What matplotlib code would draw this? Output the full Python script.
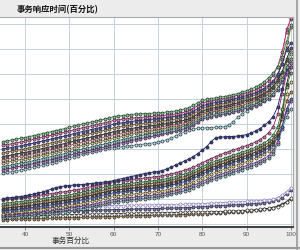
import matplotlib.pyplot as plt
from matplotlib.lines import Line2D

plt.rcParams['font.family'] = ['Noto Sans CJK SC', 'DejaVu Sans']

title = '事务响应时间(百分比)'
xlabel = '事务百分比'
percentiles = list(range(35, 101))
xticks = [40, 50, 60, 70, 80, 90, 100]

# upper band of transactions
a1 = [3.30, 3.33, 3.36, 3.40, 3.43, 3.46, 3.50, 3.54, 3.58, 3.62, 3.66,
      3.70, 3.74, 3.78, 3.82, 3.87, 3.91, 3.96, 4.00, 4.04, 4.08, 4.12,
      4.16, 4.20, 4.24, 4.30, 4.32, 4.34, 4.36, 4.38, 4.40, 4.40, 4.42,
      4.42, 4.44, 4.44, 4.46, 4.48, 4.50, 4.52, 4.55, 4.60, 4.66, 4.75,
      4.85, 4.94, 4.98, 5.02, 5.05, 5.08, 5.10, 5.14, 5.18, 5.22, 5.28,
      5.34, 5.40, 5.48, 5.58, 5.70, 5.86, 6.04, 6.30, 6.70, 7.30, 7.95]
a2 = [3.15, 3.18, 3.21, 3.25, 3.28, 3.31, 3.35, 3.39, 3.43, 3.47, 3.51,
      3.55, 3.59, 3.63, 3.67, 3.72, 3.76, 3.81, 3.85, 3.89, 3.93, 3.97,
      4.01, 4.05, 4.09, 4.15, 4.17, 4.19, 4.21, 4.23, 4.25, 4.26, 4.28,
      4.29, 4.31, 4.32, 4.34, 4.36, 4.38, 4.40, 4.43, 4.47, 4.53, 4.62,
      4.74, 4.84, 4.89, 4.93, 4.96, 4.99, 5.02, 5.05, 5.10, 5.15, 5.20,
      5.25, 5.30, 5.37, 5.46, 5.58, 5.74, 5.95, 6.30, 6.90, 7.70, 8.25]
a3 = [3.00, 3.03, 3.06, 3.10, 3.13, 3.16, 3.20, 3.24, 3.28, 3.32, 3.36,
      3.40, 3.44, 3.48, 3.52, 3.57, 3.61, 3.66, 3.70, 3.74, 3.78, 3.82,
      3.86, 3.90, 3.94, 4.00, 4.03, 4.05, 4.08, 4.10, 4.13, 4.14, 4.17,
      4.18, 4.20, 4.21, 4.24, 4.26, 4.29, 4.31, 4.34, 4.38, 4.43, 4.51,
      4.62, 4.73, 4.78, 4.82, 4.86, 4.89, 4.92, 4.95, 5.00, 5.04, 5.09,
      5.14, 5.19, 5.25, 5.32, 5.42, 5.55, 5.72, 6.00, 6.40, 6.95, 7.25]
a4 = [2.85, 2.88, 2.91, 2.95, 2.98, 3.01, 3.05, 3.09, 3.13, 3.17, 3.21,
      3.25, 3.29, 3.33, 3.37, 3.42, 3.46, 3.51, 3.55, 3.59, 3.63, 3.67,
      3.71, 3.75, 3.79, 3.85, 3.88, 3.91, 3.94, 3.96, 3.99, 4.01, 4.04,
      4.05, 4.07, 4.09, 4.12, 4.14, 4.17, 4.20, 4.23, 4.27, 4.32, 4.40,
      4.51, 4.62, 4.68, 4.72, 4.76, 4.79, 4.82, 4.85, 4.90, 4.95, 5.00,
      5.05, 5.10, 5.16, 5.24, 5.34, 5.48, 5.66, 5.95, 6.40, 7.05, 7.90]
a5 = [2.70, 2.73, 2.76, 2.80, 2.83, 2.86, 2.90, 2.94, 2.98, 3.02, 3.06,
      3.10, 3.14, 3.18, 3.22, 3.27, 3.31, 3.36, 3.40, 3.44, 3.48, 3.52,
      3.56, 3.60, 3.64, 3.70, 3.73, 3.76, 3.79, 3.82, 3.85, 3.87, 3.90,
      3.92, 3.94, 3.96, 3.99, 4.02, 4.05, 4.08, 4.11, 4.15, 4.20, 4.28,
      4.40, 4.52, 4.58, 4.62, 4.66, 4.69, 4.72, 4.75, 4.80, 4.85, 4.90,
      4.95, 5.00, 5.06, 5.13, 5.22, 5.35, 5.50, 5.75, 6.10, 6.60, 7.05]
a6 = [2.58, 2.61, 2.64, 2.68, 2.71, 2.74, 2.78, 2.82, 2.86, 2.90, 2.94,
      2.98, 3.02, 3.06, 3.10, 3.15, 3.19, 3.24, 3.28, 3.32, 3.36, 3.40,
      3.44, 3.48, 3.52, 3.58, 3.61, 3.64, 3.67, 3.71, 3.74, 3.76, 3.79,
      3.81, 3.83, 3.86, 3.89, 3.92, 3.95, 3.98, 4.02, 4.06, 4.11, 4.19,
      4.31, 4.43, 4.49, 4.54, 4.58, 4.61, 4.64, 4.67, 4.72, 4.77, 4.82,
      4.87, 4.92, 4.98, 5.06, 5.16, 5.30, 5.50, 5.85, 6.60, 7.80, 8.20]
a7 = [2.45, 2.48, 2.51, 2.55, 2.58, 2.61, 2.65, 2.69, 2.73, 2.77, 2.81,
      2.85, 2.89, 2.93, 2.97, 3.02, 3.06, 3.11, 3.15, 3.19, 3.23, 3.27,
      3.31, 3.35, 3.39, 3.45, 3.49, 3.52, 3.56, 3.59, 3.63, 3.65, 3.69,
      3.71, 3.74, 3.76, 3.80, 3.83, 3.87, 3.90, 3.94, 3.99, 4.04, 4.13,
      4.25, 4.37, 4.43, 4.47, 4.51, 4.54, 4.57, 4.60, 4.65, 4.70, 4.75,
      4.80, 4.85, 4.91, 4.98, 5.07, 5.20, 5.36, 5.60, 5.95, 6.45, 6.80]
a8 = [2.30, 2.33, 2.36, 2.40, 2.43, 2.46, 2.50, 2.54, 2.58, 2.62, 2.66,
      2.70, 2.74, 2.78, 2.82, 2.87, 2.91, 2.96, 3.00, 3.04, 3.08, 3.12,
      3.16, 3.20, 3.24, 3.30, 3.34, 3.38, 3.42, 3.46, 3.50, 3.53, 3.57,
      3.60, 3.63, 3.66, 3.70, 3.74, 3.78, 3.82, 3.86, 3.91, 3.96, 4.04,
      4.15, 4.27, 4.33, 4.37, 4.41, 4.44, 4.47, 4.50, 4.55, 4.60, 4.65,
      4.70, 4.75, 4.81, 4.88, 4.97, 5.08, 5.22, 5.45, 5.80, 6.30, 6.60]
a9 = [2.18, 2.21, 2.24, 2.28, 2.31, 2.34, 2.38, 2.42, 2.46, 2.50, 2.54,
      2.58, 2.62, 2.66, 2.70, 2.75, 2.79, 2.84, 2.88, 2.92, 2.96, 3.00,
      3.04, 3.08, 3.12, 3.18, 3.22, 3.26, 3.30, 3.34, 3.38, 3.41, 3.45,
      3.48, 3.52, 3.55, 3.59, 3.63, 3.67, 3.71, 3.76, 3.81, 3.87, 3.95,
      4.07, 4.19, 4.25, 4.30, 4.34, 4.37, 4.40, 4.43, 4.48, 4.53, 4.58,
      4.63, 4.68, 4.74, 4.81, 4.90, 5.00, 5.15, 5.35, 5.70, 6.10, 6.30]
a10 = [2.04, 2.07, 2.10, 2.13, 2.16, 2.20, 2.24, 2.28, 2.32, 2.37, 2.42,
       2.46, 2.50, 2.55, 2.60, 2.65, 2.69, 2.74, 2.79, 2.84, 2.88, 2.92,
       2.96, 3.00, 3.03, 3.06, 3.08, 3.10, 3.12, 3.14, 3.16, 3.18, 3.20,
       3.22, 3.25, 3.28, 3.32, 3.38, 3.44, 3.52, 3.62, 3.70, 3.76, 3.80,
       3.83, 3.84, 3.85, 3.86, 3.87, 3.88, 3.90, 3.96, 4.10, 4.28, 4.40,
       4.52, 4.64, 4.76, 4.90, 5.05, 5.20, 5.40, 5.70, 6.05, 6.50, 6.90]

# middle band
b1 = [1.02, 1.04, 1.06, 1.08, 1.10, 1.13, 1.16, 1.20, 1.24, 1.28, 1.34,
      1.40, 1.46, 1.50, 1.52, 1.54, 1.56, 1.57, 1.58, 1.60, 1.62, 1.64,
      1.66, 1.68, 1.70, 1.74, 1.78, 1.82, 1.86, 1.90, 1.94, 1.98, 2.02,
      2.05, 2.08, 2.10, 2.14, 2.20, 2.28, 2.36, 2.44, 2.52, 2.60, 2.70,
      2.82, 2.96, 3.10, 3.30, 3.45, 3.48, 3.48, 3.50, 3.50, 3.52, 3.54,
      3.58, 3.64, 3.72, 3.82, 3.95, 4.10, 4.30, 4.70, 5.40, 6.20, 6.60]
b2 = [0.97, 0.99, 1.01, 1.03, 1.05, 1.07, 1.09, 1.12, 1.14, 1.17, 1.19,
      1.22, 1.24, 1.27, 1.29, 1.32, 1.35, 1.38, 1.42, 1.46, 1.50, 1.54,
      1.58, 1.62, 1.66, 1.70, 1.72, 1.74, 1.76, 1.78, 1.80, 1.82, 1.84,
      1.86, 1.88, 1.90, 1.93, 1.97, 2.01, 2.05, 2.10, 2.15, 2.21, 2.28,
      2.36, 2.45, 2.54, 2.62, 2.70, 2.77, 2.84, 2.90, 2.96, 3.02, 3.08,
      3.14, 3.20, 3.28, 3.38, 3.50, 3.66, 3.90, 4.40, 5.20, 6.00, 6.45]
b3 = [0.82, 0.84, 0.86, 0.88, 0.90, 0.92, 0.94, 0.97, 0.99, 1.02, 1.04,
      1.07, 1.09, 1.12, 1.14, 1.17, 1.20, 1.23, 1.27, 1.31, 1.35, 1.39,
      1.43, 1.47, 1.51, 1.55, 1.57, 1.59, 1.61, 1.63, 1.65, 1.67, 1.69,
      1.71, 1.73, 1.75, 1.78, 1.82, 1.86, 1.90, 1.95, 2.00, 2.06, 2.13,
      2.21, 2.30, 2.38, 2.45, 2.52, 2.58, 2.64, 2.70, 2.76, 2.82, 2.88,
      2.94, 3.00, 3.07, 3.15, 3.25, 3.38, 3.56, 3.90, 4.60, 5.50, 6.05]
b4 = [0.72, 0.74, 0.76, 0.78, 0.80, 0.82, 0.84, 0.87, 0.89, 0.92, 0.94,
      0.97, 0.99, 1.02, 1.04, 1.07, 1.10, 1.13, 1.17, 1.21, 1.25, 1.29,
      1.33, 1.37, 1.41, 1.45, 1.47, 1.49, 1.51, 1.53, 1.55, 1.57, 1.59,
      1.61, 1.63, 1.65, 1.68, 1.72, 1.76, 1.80, 1.85, 1.90, 1.96, 2.03,
      2.11, 2.20, 2.28, 2.35, 2.42, 2.48, 2.54, 2.60, 2.66, 2.72, 2.78,
      2.84, 2.90, 2.97, 3.05, 3.14, 3.25, 3.40, 3.70, 4.20, 4.90, 5.30]
b5 = [0.62, 0.64, 0.66, 0.68, 0.70, 0.72, 0.74, 0.77, 0.79, 0.82, 0.84,
      0.87, 0.89, 0.92, 0.94, 0.97, 1.00, 1.03, 1.07, 1.11, 1.15, 1.19,
      1.23, 1.27, 1.31, 1.35, 1.37, 1.39, 1.41, 1.43, 1.45, 1.47, 1.49,
      1.51, 1.53, 1.55, 1.58, 1.62, 1.66, 1.70, 1.75, 1.80, 1.86, 1.93,
      2.01, 2.10, 2.18, 2.25, 2.32, 2.38, 2.44, 2.50, 2.56, 2.62, 2.68,
      2.74, 2.80, 2.87, 2.95, 3.04, 3.15, 3.30, 3.60, 4.40, 5.60, 6.30]
b6 = [0.52, 0.54, 0.56, 0.58, 0.60, 0.62, 0.64, 0.67, 0.69, 0.72, 0.74,
      0.77, 0.79, 0.82, 0.84, 0.87, 0.90, 0.93, 0.97, 1.01, 1.05, 1.09,
      1.13, 1.17, 1.21, 1.25, 1.27, 1.29, 1.31, 1.33, 1.35, 1.37, 1.39,
      1.41, 1.43, 1.45, 1.48, 1.52, 1.56, 1.60, 1.65, 1.70, 1.76, 1.83,
      1.91, 2.00, 2.08, 2.15, 2.22, 2.28, 2.34, 2.40, 2.46, 2.52, 2.58,
      2.64, 2.70, 2.77, 2.85, 2.94, 3.05, 3.20, 3.45, 3.90, 4.60, 5.00]
b7 = [0.42, 0.44, 0.46, 0.48, 0.50, 0.52, 0.54, 0.56, 0.58, 0.61, 0.63,
      0.65, 0.67, 0.70, 0.72, 0.75, 0.78, 0.81, 0.84, 0.88, 0.91, 0.95,
      0.99, 1.03, 1.07, 1.11, 1.13, 1.15, 1.17, 1.19, 1.21, 1.23, 1.25,
      1.27, 1.29, 1.31, 1.34, 1.38, 1.42, 1.46, 1.51, 1.56, 1.62, 1.69,
      1.77, 1.86, 1.94, 2.01, 2.08, 2.14, 2.20, 2.26, 2.32, 2.38, 2.44,
      2.50, 2.56, 2.63, 2.71, 2.80, 2.92, 3.10, 3.50, 4.30, 5.20, 5.70]
b8 = [0.34, 0.35, 0.36, 0.38, 0.40, 0.41, 0.43, 0.45, 0.47, 0.49, 0.51,
      0.53, 0.55, 0.58, 0.60, 0.63, 0.66, 0.69, 0.72, 0.75, 0.78, 0.82,
      0.86, 0.90, 0.94, 0.98, 1.00, 1.02, 1.04, 1.06, 1.08, 1.10, 1.12,
      1.14, 1.16, 1.18, 1.21, 1.25, 1.29, 1.33, 1.38, 1.43, 1.48, 1.55,
      1.62, 1.70, 1.78, 1.85, 1.92, 1.98, 2.04, 2.10, 2.16, 2.22, 2.28,
      2.34, 2.40, 2.46, 2.54, 2.62, 2.74, 2.92, 3.30, 3.90, 4.50, 4.90]
b9 = [0.26, 0.27, 0.28, 0.30, 0.31, 0.33, 0.34, 0.36, 0.38, 0.40, 0.42,
      0.44, 0.46, 0.48, 0.50, 0.53, 0.56, 0.59, 0.62, 0.65, 0.68, 0.72,
      0.76, 0.80, 0.84, 0.88, 0.90, 0.92, 0.94, 0.96, 0.98, 1.00, 1.02,
      1.04, 1.06, 1.08, 1.11, 1.15, 1.19, 1.23, 1.28, 1.33, 1.38, 1.45,
      1.52, 1.60, 1.68, 1.75, 1.82, 1.88, 1.94, 2.00, 2.06, 2.12, 2.18,
      2.24, 2.30, 2.36, 2.44, 2.52, 2.64, 2.80, 3.20, 3.80, 4.30, 4.60]

# bottom band
c1 = [0.30, 0.30, 0.31, 0.31, 0.32, 0.32, 0.33, 0.33, 0.34, 0.34, 0.35,
      0.35, 0.36, 0.36, 0.37, 0.37, 0.38, 0.38, 0.39, 0.39, 0.40, 0.40,
      0.40, 0.41, 0.41, 0.42, 0.42, 0.42, 0.43, 0.43, 0.43, 0.44, 0.44,
      0.44, 0.45, 0.45, 0.45, 0.46, 0.46, 0.46, 0.47, 0.47, 0.47, 0.48,
      0.48, 0.48, 0.49, 0.49, 0.50, 0.50, 0.51, 0.51, 0.52, 0.53, 0.54,
      0.55, 0.56, 0.57, 0.59, 0.61, 0.63, 0.66, 0.70, 0.76, 0.88, 1.05]
c2 = [0.55, 0.56, 0.57, 0.58, 0.59, 0.60, 0.61, 0.62, 0.63, 0.64, 0.65,
      0.66, 0.67, 0.68, 0.69, 0.70, 0.70, 0.71, 0.71, 0.72, 0.72, 0.72,
      0.73, 0.73, 0.73, 0.74, 0.74, 0.74, 0.75, 0.75, 0.75, 0.76, 0.76,
      0.76, 0.77, 0.77, 0.77, 0.78, 0.78, 0.78, 0.79, 0.79, 0.80, 0.80,
      0.81, 0.81, 0.82, 0.83, 0.84, 0.85, 0.86, 0.87, 0.88, 0.89, 0.90,
      0.91, 0.92, 0.93, 0.94, 0.95, 0.97, 1.00, 1.06, 1.16, 1.30, 1.45]
c3 = [0.18, 0.18, 0.19, 0.19, 0.20, 0.20, 0.21, 0.21, 0.22, 0.22, 0.23,
      0.23, 0.24, 0.24, 0.25, 0.25, 0.26, 0.26, 0.27, 0.27, 0.28, 0.28,
      0.29, 0.29, 0.30, 0.30, 0.31, 0.31, 0.32, 0.32, 0.33, 0.33, 0.34,
      0.34, 0.35, 0.35, 0.36, 0.36, 0.37, 0.37, 0.38, 0.38, 0.39, 0.40,
      0.40, 0.41, 0.42, 0.43, 0.44, 0.45, 0.46, 0.47, 0.48, 0.49, 0.50,
      0.51, 0.53, 0.55, 0.57, 0.59, 0.62, 0.66, 0.72, 0.80, 0.90, 1.00]
c4 = [0.38, 0.39, 0.40, 0.41, 0.42, 0.43, 0.44, 0.45, 0.46, 0.47, 0.48,
      0.49, 0.50, 0.51, 0.52, 0.52, 0.53, 0.53, 0.54, 0.54, 0.55, 0.55,
      0.56, 0.56, 0.57, 0.57, 0.58, 0.58, 0.59, 0.59, 0.60, 0.60, 0.61,
      0.61, 0.62, 0.62, 0.63, 0.63, 0.64, 0.64, 0.65, 0.65, 0.66, 0.67,
      0.68, 0.69, 0.70, 0.71, 0.72, 0.73, 0.74, 0.75, 0.76, 0.77, 0.78,
      0.79, 0.80, 0.82, 0.84, 0.86, 0.89, 0.93, 0.98, 1.06, 1.20, 1.35]

# (values, line colour, marker face)
series = [
    (c3, '#6a4a2a', '#b08a60'), (c1, '#222222', 'white'),
    (c4, '#2a2a6a', '#7070b0'), (c2, '#9a8ac8', 'white'),
    (b9, '#3a9aa0', '#90d0d8'), (b8, '#7a3a9a', '#c090d8'),
    (b7, '#b8a050', '#e8d890'), (b6, '#2a3aa0', '#6070d0'),
    (b5, '#111111', '#505050'), (b4, '#7a4a20', '#c09060'),
    (b3, '#2a7a3a', '#70c080'), (b2, '#a0186a', '#e070b0'),
    (b1, '#101870', '#303898'),
    (a10, '#5aa8c8', '#b0e0f0'), (a9, '#6a2a8a', '#b070d0'),
    (a8, '#2a8a8a', '#80c8c8'), (a7, '#9a9a40', '#d8d890'),
    (a6, '#e0607a', '#f8b0c0'), (a5, '#111111', '#606060'),
    (a4, '#8a5a2a', '#c8a070'), (a3, '#1a1f7a', '#5058b8'),
    (a2, '#b0207a', '#e878c0'), (a1, '#2e8b3e', '#80c890'),
]

fig = plt.figure(figsize=(3, 2.5), dpi=100)
fig.patch.set_facecolor('#ececec')

ax = fig.add_axes([0, 0.092, 293 / 300, 0.84])
ax.set_facecolor('white')

for vals, col, face in series:
    edge = '#8a7ab8' if face == 'white' and col != '#222222' else '#2c2c2c'
    ax.plot(percentiles, vals, color=col, lw=0.6, marker='o', ms=2.2,
            mfc=face, mec=edge, mew=0.5)

ax.set_xlim(34.36, 100.45)
ax.set_ylim(-0.12, 8.28)
ax.set_xticks(xticks)
ax.set_yticks(range(0, 9))
ax.grid(True, color='#c4d2dc', lw=0.7)
ax.set_axisbelow(True)
ax.tick_params(axis='x', length=2, width=0.6, pad=1.5, colors='#777777',
               labelsize=4.6, labelcolor='#555555')
ax.tick_params(axis='y', length=0, labelleft=False)
for lab in ax.get_xticklabels():
    lab.set_family('Liberation Sans')

ax.spines['left'].set_visible(False)
ax.spines['top'].set_color('#a8a8a8')
ax.spines['top'].set_linewidth(0.8)
ax.spines['right'].set_color('#a8a8a8')
ax.spines['right'].set_linewidth(0.8)
ax.spines['bottom'].set_color('#404040')
ax.spines['bottom'].set_linewidth(1.4)

fig.text(17 / 300, 1 - 10 / 250, title, fontsize=6, fontweight='bold',
         color='#111111', ha='left', va='center')
fig.text(52 / 300, 1 - 241 / 250, xlabel, fontsize=5.5, color='#333333',
         ha='left', va='center')

# window frame at right and bottom
fig.add_artist(Line2D([297 / 300, 297 / 300], [0, 1], color='#9a9a9a', lw=1.2))
fig.add_artist(Line2D([0, 1], [2 / 250, 2 / 250], color='#9a9a9a', lw=1.5))

fig.savefig('out.png', dpi=100, facecolor=fig.get_facecolor())
